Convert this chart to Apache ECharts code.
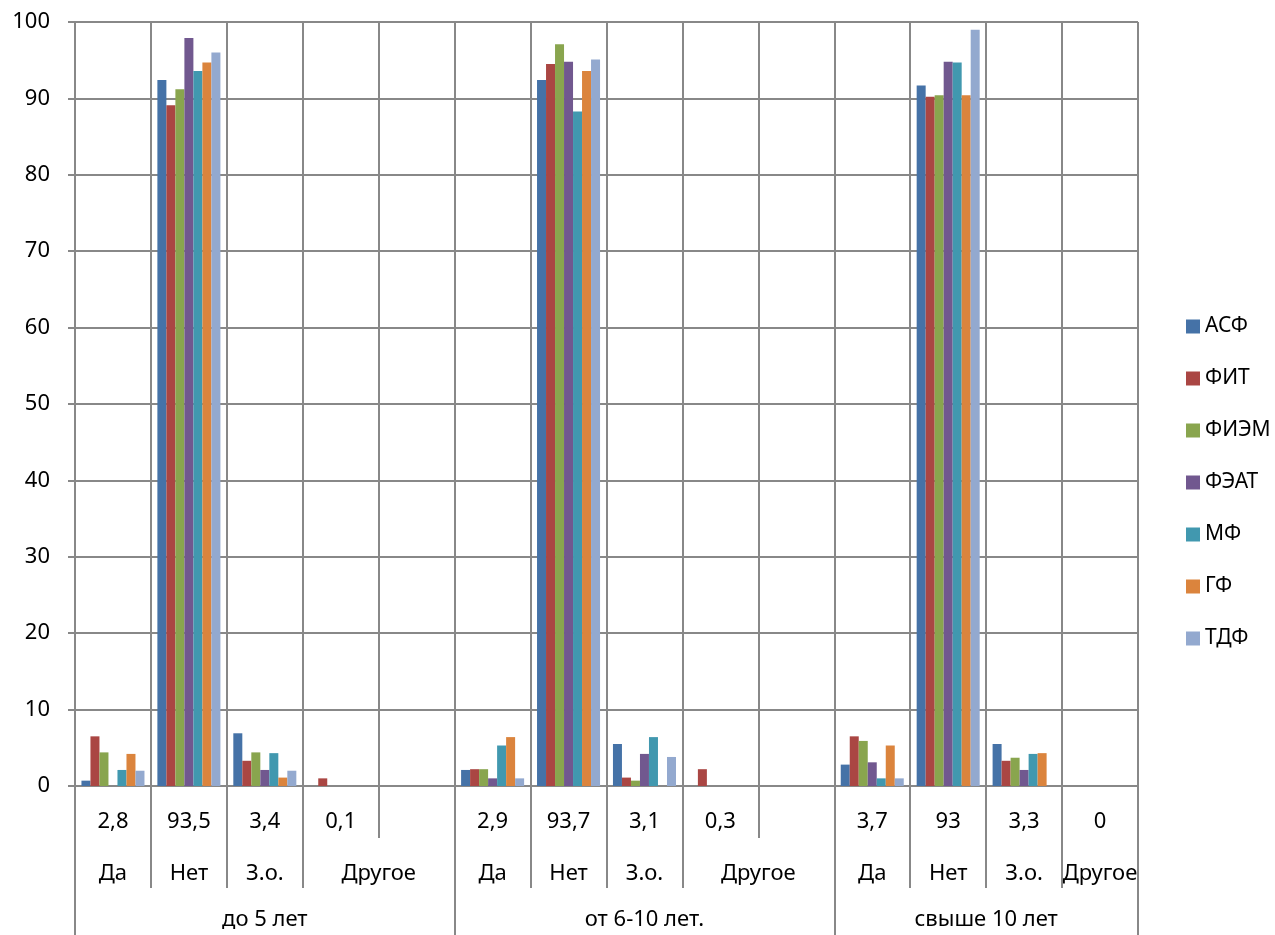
<!DOCTYPE html>
<html>
<head>
<meta charset="utf-8">
<script src="https://cdn.jsdelivr.net/npm/echarts@6/dist/echarts.min.js"></script>
<style>
html,body{margin:0;padding:0;background:#fff;}
#chart{width:1275px;height:935px;}
</style>
</head>
<body>
<div id="chart"></div>
<script>
// ---- data ----
const groups = ["до 5 лет", "от 6-10 лет.", "свыше 10 лет"];
const answers = ["Да", "Нет", "З.о.", "Другое"];
// number of category columns each answer occupies within a group
const answerSpans = [[1, 1, 1, 2], [1, 1, 1, 2], [1, 1, 1, 1]];
// top-level labels (one per column)
const totals = ["2,8", "93,5", "3,4", "0,1", "", "2,9", "93,7", "3,1", "0,3", "", "3,7", "93", "3,3", "0"];

const seriesNames = ["АСФ", "ФИТ", "ФИЭМ", "ФЭАТ", "МФ", "ГФ", "ТДФ"];
const asf  = [0.7, 92.4, 6.9, 0,   null, 2.1, 92.4, 5.5, 0,   null, 2.8, 91.7, 5.5, 0];
const fit  = [6.5, 89.1, 3.3, 1.0, null, 2.2, 94.5, 1.1, 2.2, null, 6.5, 90.2, 3.3, 0];
const fiem = [4.4, 91.2, 4.4, 0,   null, 2.2, 97.1, 0.7, 0,   null, 5.9, 90.4, 3.7, 0];
const feat = [0,   97.9, 2.1, 0,   null, 1.0, 94.8, 4.2, 0,   null, 3.1, 94.8, 2.1, 0];
const mf   = [2.1, 93.6, 4.3, 0,   null, 5.3, 88.3, 6.4, 0,   null, 1.0, 94.7, 4.2, 0];
const gf   = [4.2, 94.7, 1.1, 0,   null, 6.4, 93.6, 0,   0,   null, 5.3, 90.4, 4.3, 0];
const tdf  = [2.0, 96.0, 2.0, 0,   null, 1.0, 95.1, 3.8, 0,   null, 1.0, 99.0, 0,   0];
const seriesData = [asf, fit, fiem, feat, mf, gf, tdf];
const colors = ["#4572A7", "#AA4643", "#89A54E", "#71588F", "#4198AF", "#DB843D", "#93A9CF"];

const yTicks = { min: 0, max: 100, interval: 10 };

// ---- build half-step helper axes (positions 0, 0.5, 1, ... N columns) ----
const nCols = totals.length;
const nHalf = nCols * 2 + 1;
const ansLabels = new Array(nHalf).fill("");
const ansTicks = new Array(nHalf).fill(false);
const grpLabels = new Array(nHalf).fill("");
const grpTicks = new Array(nHalf).fill(false);
let col = 0;
grpTicks[0] = true;
groups.forEach((g, gi) => {
  const start = col;
  answerSpans[gi].forEach((span, ai) => {
    ansLabels[col * 2 + span] = answers[ai];
    if (ai > 0) ansTicks[col * 2] = true;
    col += span;
  });
  grpLabels[start + col] = g;
  grpTicks[col * 2] = true;
});
const halfCats = Array.from({ length: nHalf }, (_, i) => String(i));

const FONT = "Noto Sans";
const FS = 22;
const gridColor = "#888888";

const chart = echarts.init(document.getElementById('chart'), null, { renderer: 'canvas' });
chart.setOption({
  animation: false,
  backgroundColor: '#ffffff',
  textStyle: { fontFamily: FONT },
  color: colors,
  grid: { left: 75, right: 137, top: 22, bottom: 149, containLabel: false },
  legend: {
    orient: 'vertical',
    left: 1181,
    top: 311,
    icon: 'rect',
    itemWidth: 14,
    itemHeight: 14,
    itemGap: 31,
    textStyle: { fontFamily: FONT, fontSize: 21, color: '#000', lineHeight: 20 },
    data: seriesNames
  },
  xAxis: [
    {
      type: 'category',
      data: totals,
      position: 'bottom',
      axisLine: { show: true, lineStyle: { color: gridColor, width: 2 } },
      axisTick: { show: true, interval: 0, length: 52, lineStyle: { color: gridColor, width: 2 } },
      axisLabel: { interval: 0, margin: 36, verticalAlign: 'middle', fontFamily: FONT, fontSize: FS, color: '#000' },
      splitLine: { show: true, interval: 0, lineStyle: { color: gridColor, width: 2 } }
    },
    {
      type: 'category',
      data: halfCats,
      boundaryGap: false,
      position: 'bottom',
      offset: 52,
      axisLine: { show: false },
      axisTick: { show: true, interval: (i) => ansTicks[i], length: 50, lineStyle: { color: gridColor, width: 2 } },
      axisLabel: { interval: 0, margin: 36, verticalAlign: 'middle', fontFamily: FONT, fontSize: FS, color: '#000',
                   formatter: (v, i) => ansLabels[i] },
      splitLine: { show: false }
    },
    {
      type: 'category',
      data: halfCats,
      boundaryGap: false,
      position: 'bottom',
      offset: 0,
      axisLine: { show: false },
      axisTick: { show: true, interval: (i) => grpTicks[i], length: 149, lineStyle: { color: gridColor, width: 2 } },
      axisLabel: { interval: 0, margin: 134, verticalAlign: 'middle', fontFamily: FONT, fontSize: FS, color: '#000',
                   formatter: (v, i) => grpLabels[i] },
      splitLine: { show: false }
    }
  ],
  yAxis: {
    type: 'value',
    min: yTicks.min, max: yTicks.max, interval: yTicks.interval,
    axisLine: { show: true, lineStyle: { color: gridColor, width: 2 } },
    axisTick: { show: true, length: 7, lineStyle: { color: gridColor, width: 2 } },
    axisLabel: { margin: 25, fontFamily: FONT, fontSize: FS, color: '#000' },
    splitLine: { show: true, lineStyle: { color: gridColor, width: 2 } }
  },
  series: seriesNames.map((name, i) => ({
    name,
    type: 'bar',
    xAxisIndex: 0,
    data: seriesData[i],
    barGap: '0%',
    barCategoryGap: '17%',
    itemStyle: { color: colors[i] }
  }))
});
</script>
</body>
</html>
